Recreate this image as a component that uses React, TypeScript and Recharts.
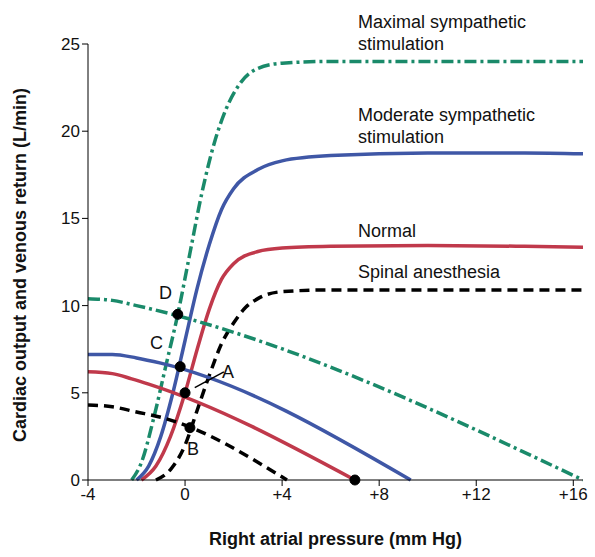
import { LineChart, Line, XAxis, YAxis, ReferenceDot, ReferenceLine } from 'recharts';

const xTicks = [-4, 0, 4, 8, 12, 16];
const yTicks = [0, 5, 10, 15, 20, 25];

const normalCO = [[-1.8,0],[-1.2,0.8],[-0.6,2.5],[0,5],[0.5,7.5],[1,9.8],[1.5,11.5],[2,12.4],[3,13.1],[4,13.3],[6,13.4],[10,13.45],[14,13.4],[16.4,13.35]];
const moderateCO = [[-2,0],[-1.5,0.8],[-1,2.5],[-0.5,5],[0,8],[0.5,11],[1,13.5],[1.5,15.5],[2,16.7],[3,17.8],[4,18.3],[6,18.6],[10,18.75],[14,18.75],[16.4,18.7]];
const maximalCO = [[-2.2,0],[-1.8,1],[-1.3,3.5],[-0.8,6.5],[-0.3,9.5],[0.2,13],[0.7,16.5],[1.2,19.3],[1.7,21.3],[2.3,22.8],[3,23.6],[4,23.9],[6,24],[16.4,24]];
const spinalCO = [[-1.2,0],[-0.6,0.6],[0,2],[0.5,4],[1,6],[1.5,7.8],[2,9],[2.5,9.9],[3,10.4],[4,10.8],[6,10.9],[16.4,10.9]];

const normalVR = [[-4,6.2],[-3,6.1],[-2.2,5.8],[-1.5,5.5],[7,0]];
const moderateVR = [[-4,7.2],[-3,7.2],[-2,7],[-1,6.7],[9.3,0]];
const maximalVR = [[-4,10.4],[-3,10.3],[-2,10],[16.4,0]];
const spinalVR = [[-4,4.3],[-3,4.2],[-2,3.9],[-1,3.6],[4.2,0]];

const toPts = (a: number[][]) => a.map(([x, y]) => ({ x, y }));

const RED = '#c0394b';
const BLUE = '#3f57a6';
const GREEN = '#1a8a6a';

const series = [
  { id: 'nco', d: normalCO, c: RED, dash: undefined },
  { id: 'mco', d: moderateCO, c: BLUE, dash: undefined },
  { id: 'xco', d: maximalCO, c: GREEN, dash: '12 4 3 4' },
  { id: 'sco', d: spinalCO, c: '#000', dash: '10 6' },
  { id: 'nvr', d: normalVR, c: RED, dash: undefined },
  { id: 'mvr', d: moderateVR, c: BLUE, dash: undefined },
  { id: 'xvr', d: maximalVR, c: GREEN, dash: '12 4 3 4' },
  { id: 'svr', d: spinalVR, c: '#000', dash: '10 6' },
];

const points = [
  { x: -0.3, y: 9.5 },
  { x: -0.2, y: 6.5 },
  { x: 0, y: 5 },
  { x: 0.2, y: 3 },
  { x: 7, y: 0 },
];

const txt: React.CSSProperties = { position: 'absolute', fontSize: 18, color: '#111', lineHeight: '22px' };

export default function App() {
  return (
    <div style={{ position: 'absolute', left: 0, top: 0, width: 595, height: 557, background: '#fff', fontFamily: 'Liberation Sans, Arial, sans-serif' }}>
      <LineChart width={595} height={557} margin={{ top: 44, right: 12, left: 30, bottom: 8 }}>
        <XAxis type="number" dataKey="x" domain={[-4, 16.4]} ticks={xTicks} allowDataOverflow
          tickFormatter={(v) => (v > 0 ? `+${v}` : `${v}`)} stroke="#000" tick={{ fill: '#111', fontSize: 17 }}
          tickSize={6} height={69}
          label={{ value: 'Right atrial pressure (mm Hg)', position: 'insideBottom', offset: 4, fontSize: 18, fontWeight: 'bold', fill: '#111' }} />
        <YAxis type="number" dataKey="y" domain={[0, 25]} ticks={yTicks} stroke="#000" tick={{ fill: '#111', fontSize: 17 }}
          tickSize={6} width={58}
          label={{ value: 'Cardiac output and venous return (L/min)', angle: -90, position: 'insideLeft', offset: -10, dy: 180, fontSize: 18, fontWeight: 'bold', fill: '#111' }} />
        {series.map((s) => (
          <Line key={s.id} data={toPts(s.d)} dataKey="y" type="monotone" stroke={s.c} strokeWidth={3.5}
            strokeDasharray={s.dash} dot={false} isAnimationActive={false} />
        ))}
        <ReferenceLine segment={[{ x: 0.4, y: 5.3 }, { x: 1.6, y: 6.2 }]} stroke="#000" strokeWidth={1.5} />
        {points.map((p, i) => (
          <ReferenceDot key={i} x={p.x} y={p.y} r={5} fill="#000" stroke="#000" />
        ))}
      </LineChart>
      <div style={{ ...txt, left: 358, top: 11 }}>Maximal sympathetic<br />stimulation</div>
      <div style={{ ...txt, left: 358, top: 104 }}>Moderate sympathetic<br />stimulation</div>
      <div style={{ ...txt, left: 358, top: 220 }}>Normal</div>
      <div style={{ ...txt, left: 358, top: 261 }}>Spinal anesthesia</div>
      <div style={{ ...txt, left: 159, top: 282 }}>D</div>
      <div style={{ ...txt, left: 150, top: 332 }}>C</div>
      <div style={{ ...txt, left: 222, top: 361 }}>A</div>
      <div style={{ ...txt, left: 187, top: 438 }}>B</div>
    </div>
  );
}
